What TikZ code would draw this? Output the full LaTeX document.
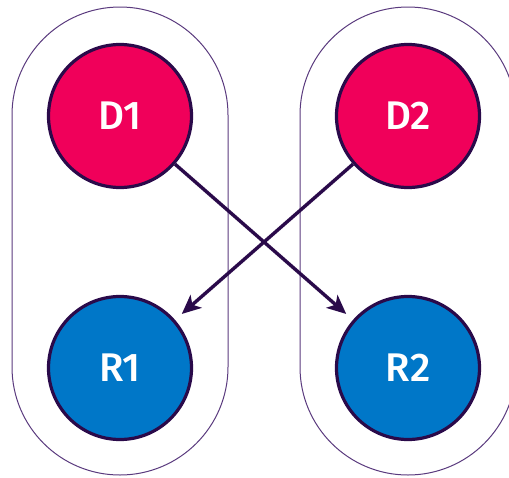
\documentclass[tikz,border=0pt]{standalone}
\usepackage{fontspec}
\setmainfont{Fira Sans}[BoldFont={Fira Sans Medium}]
\usetikzlibrary{arrows.meta}
\definecolor{dpink}{HTML}{F0005A}
\definecolor{rblue}{HTML}{0077C8}
\definecolor{edge}{HTML}{2A0A4A}
\definecolor{pill}{HTML}{5A3A7E}
\tikzset{
  party/.style={circle, draw=edge, line width=3.2pt, minimum size=143pt, inner sep=0pt,
    text=white, font=\fontsize{40}{40}\selectfont\bfseries},
  dnode/.style={party, fill=dpink},
  rnode/.style={party, fill=rblue},
  pillbox/.style={draw=pill, line width=1pt, rounded corners=108pt},
  link/.style={draw=edge, line width=3.4pt, -{Stealth[length=19pt,width=17pt,inset=5pt]}, shorten >=9pt}
}
\begin{document}
\begin{tikzpicture}[x=1pt,y=-1pt]
  \useasboundingbox (0,0) rectangle (509,477);
  \clip (0,0) rectangle (509,477);
  % groups
  \draw[pillbox] (12,7) rectangle (228,475);
  \draw[pillbox] (300,7) rectangle (516,475);
  % parties
  \node[dnode] (d1) at (120,116) {D1};
  \node[dnode] (d2) at (408,116) {D2};
  \node[rnode] (r1) at (120,368) {R1};
  \node[rnode] (r2) at (408,368) {R2};
  % links
  \draw[link] (d1) -- (r2);
  \draw[link] (d2) -- (r1);
\end{tikzpicture}
\end{document}
